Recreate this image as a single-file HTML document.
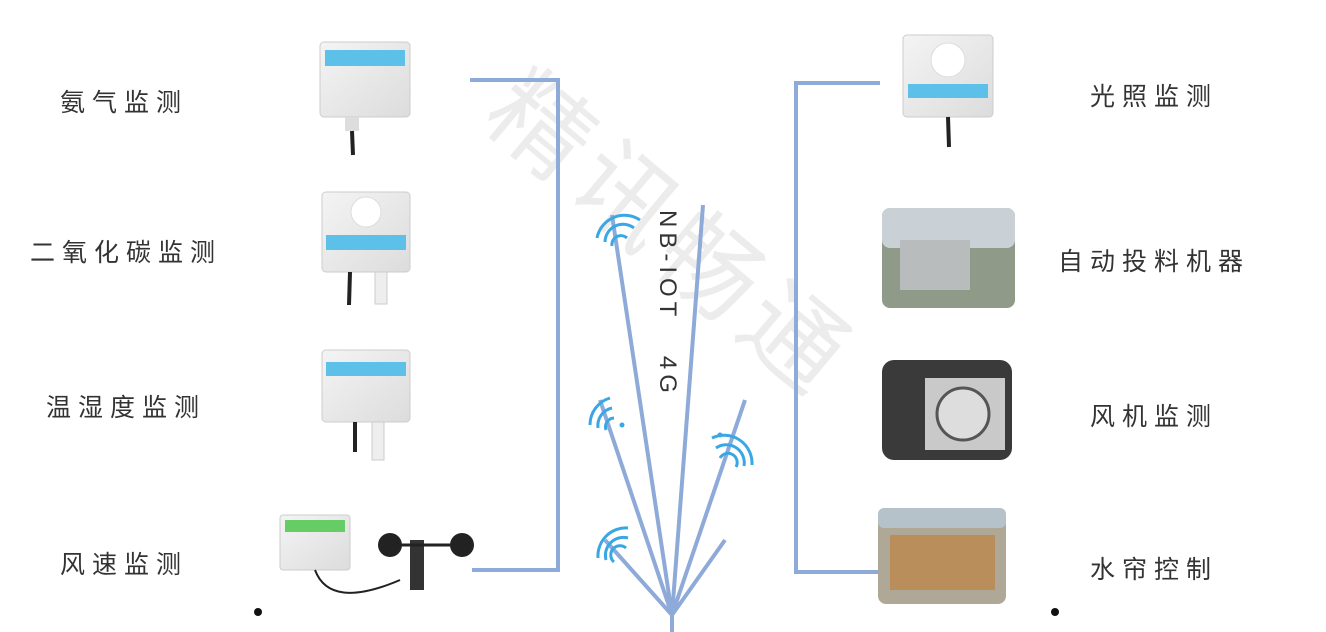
<!DOCTYPE html>
<html><head><meta charset="utf-8"><style>
html,body{margin:0;padding:0;background:#fff;}
.wrap{position:relative;width:1326px;height:632px;overflow:hidden;}
.lbl{position:absolute;font-family:"Liberation Sans","Noto Sans CJK SC",sans-serif;font-size:25px;color:#333;letter-spacing:7px;white-space:nowrap;}
</style></head><body><div class="wrap">
<svg width="1326" height="632" style="position:absolute;left:0;top:0">
<defs>
<linearGradient id="box" x1="0" y1="0" x2="1" y2="1"><stop offset="0" stop-color="#f4f4f4"/><stop offset="1" stop-color="#dcdcdc"/></linearGradient>
</defs>
<text x="0" y="0" transform="translate(480,120) rotate(40)" font-family="Noto Sans CJK SC,sans-serif" font-size="100" fill="#ececec" letter-spacing="10">精讯畅通</text>
<g stroke="#8eaad8" stroke-width="4" fill="none">
<polyline points="470,80 558,80 558,570 472,570"/>
<polyline points="880,83 796,83 796,572 880,572"/>
<line x1="672" y1="615" x2="612" y2="215"/>
<line x1="672" y1="615" x2="703" y2="205"/>
<line x1="672" y1="615" x2="600" y2="400"/>
<line x1="672" y1="615" x2="745" y2="400"/>
<line x1="672" y1="615" x2="605" y2="540"/>
<line x1="672" y1="615" x2="725" y2="540"/>
<line x1="672" y1="615" x2="672" y2="632"/>
</g>
<g stroke="#39a7e4" stroke-width="3" fill="none">
<path d="M597,238 A28,28 0 0 1 640,220"/><path d="M605,242 A18,18 0 0 1 634,228"/><path d="M612,246 A9,9 0 0 1 627,238"/>
<path d="M590,425 A28,28 0 0 1 610,398"/><path d="M598,428 A18,18 0 0 1 612,408"/><path d="M606,430 A9,9 0 0 1 614,418"/>
<path d="M752,465 A28,28 0 0 0 712,438"/><path d="M744,466 A18,18 0 0 0 716,448"/><path d="M736,467 A9,9 0 0 0 720,458"/>
<path d="M598,558 A28,28 0 0 1 628,528"/><path d="M606,560 A18,18 0 0 1 628,538"/><path d="M614,562 A9,9 0 0 1 626,548"/>
</g>
<circle cx="622" cy="425" r="2.5" fill="#39a7e4"/><circle cx="720" cy="435" r="2.5" fill="#39a7e4"/>
<text transform="translate(660,210) rotate(90)" font-family="Liberation Sans,sans-serif" font-size="24" fill="#333" letter-spacing="5" xml:space="preserve">NB-IOT   4G</text>
<g>
<rect x="320" y="42" width="90" height="75" rx="4" fill="url(#box)" stroke="#ccc"/>
<rect x="325" y="50" width="80" height="16" fill="#5cc0e8"/>
<rect x="345" y="117" width="14" height="14" fill="#ddd"/><line x1="352" y1="131" x2="353" y2="155" stroke="#222" stroke-width="4"/>
<rect x="322" y="192" width="88" height="80" rx="4" fill="url(#box)" stroke="#ccc"/>
<circle cx="366" cy="212" r="15" fill="#fff" stroke="#ddd"/>
<rect x="326" y="235" width="80" height="15" fill="#5cc0e8"/>
<line x1="350" y1="272" x2="349" y2="305" stroke="#222" stroke-width="4"/><rect x="375" y="272" width="12" height="32" fill="#eee" stroke="#ccc"/>
<rect x="322" y="350" width="88" height="72" rx="4" fill="url(#box)" stroke="#ccc"/>
<rect x="326" y="362" width="80" height="14" fill="#5cc0e8"/>
<line x1="355" y1="422" x2="355" y2="452" stroke="#222" stroke-width="4"/><rect x="372" y="422" width="12" height="38" fill="#eee" stroke="#ccc"/>
<rect x="280" y="515" width="70" height="55" rx="3" fill="url(#box)" stroke="#ccc"/>
<rect x="285" y="520" width="60" height="12" fill="#6c6"/>
<path d="M315,570 Q330,610 400,580" stroke="#222" stroke-width="2" fill="none"/>
<circle cx="390" cy="545" r="12" fill="#222"/><circle cx="462" cy="545" r="12" fill="#222"/><rect x="410" y="540" width="14" height="50" fill="#333"/><line x1="390" y1="545" x2="462" y2="545" stroke="#222" stroke-width="3"/>
</g>
<rect x="903" y="35" width="90" height="82" rx="4" fill="url(#box)" stroke="#ccc"/>
<circle cx="948" cy="60" r="17" fill="#fff" stroke="#ddd"/>
<rect x="908" y="84" width="80" height="14" fill="#5cc0e8"/>
<line x1="948" y1="117" x2="949" y2="147" stroke="#222" stroke-width="4"/>
<rect x="882" y="208" width="133" height="100" rx="8" fill="#8f9a88"/>
<rect x="882" y="208" width="133" height="40" rx="8" fill="#c9d1d6"/>
<rect x="900" y="240" width="70" height="50" fill="#b8bcbd"/>
<rect x="882" y="360" width="130" height="100" rx="12" fill="#3a3a3a"/>
<rect x="925" y="378" width="80" height="72" fill="#c9c9c9"/><circle cx="963" cy="414" r="26" fill="#ddd" stroke="#555" stroke-width="3"/>
<rect x="878" y="508" width="128" height="96" rx="8" fill="#b0a896"/>
<rect x="878" y="508" width="128" height="20" rx="6" fill="#b6c2c9"/>
<rect x="890" y="535" width="105" height="55" fill="#b98e5b"/>
<circle cx="258" cy="612" r="4" fill="#111"/><circle cx="1055" cy="612" r="4" fill="#111"/>
</svg>
<div class="lbl" style="left:60px;top:83px">氨气监测</div>
<div class="lbl" style="left:30px;top:233px">二氧化碳监测</div>
<div class="lbl" style="left:46px;top:388px">温湿度监测</div>
<div class="lbl" style="left:60px;top:545px">风速监测</div>
<div class="lbl" style="left:1090px;top:77px">光照监测</div>
<div class="lbl" style="left:1058px;top:242px">自动投料机器</div>
<div class="lbl" style="left:1090px;top:397px">风机监测</div>
<div class="lbl" style="left:1090px;top:550px">水帘控制</div>
</div></body></html>
